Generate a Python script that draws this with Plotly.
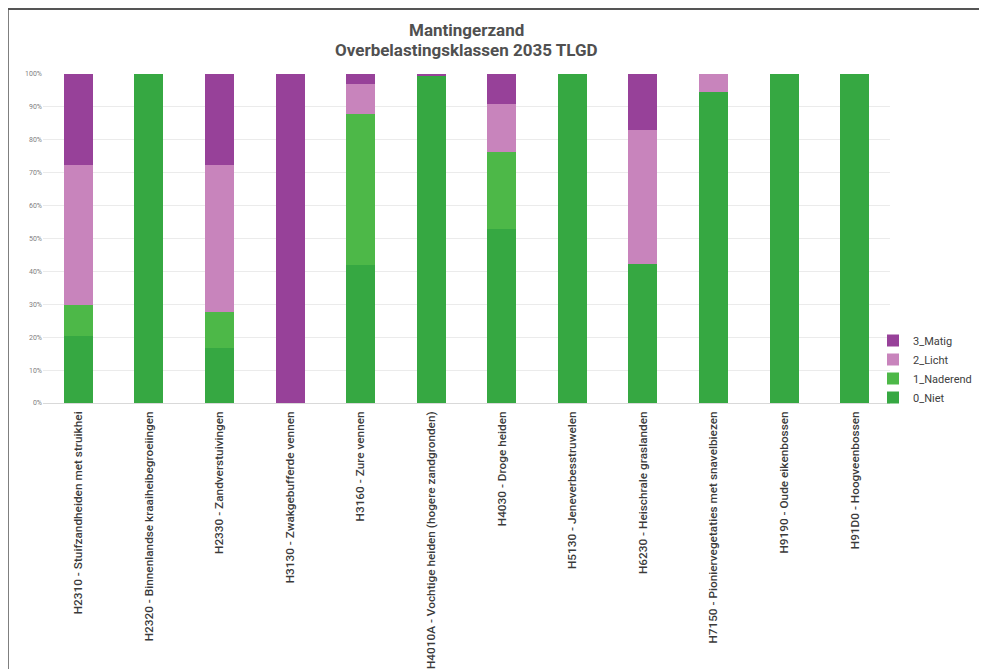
import plotly.graph_objects as go

categories = [
    "H2310 - Stuifzandheiden met struikhei",
    "H2320 - Binnenlandse kraaiheibegroeiingen",
    "H2330 - Zandverstuivingen",
    "H3130 - Zwakgebufferde vennen",
    "H3160 - Zure vennen",
    "H4010A - Vochtige heiden (hogere zandgronden)",
    "H4030 - Droge heiden",
    "H5130 - Jeneverbesstruwelen",
    "H6230 - Heischrale graslanden",
    "H7150 - Pioniervegetaties met snavelbiezen",
    "H9190 - Oude eikenbossen",
    "H91D0 - Hoogveenbossen",
]

niet     = [20.4, 100.0, 16.8, 0.0, 42.0, 99.4, 52.8, 100.0, 42.3, 94.4, 100.0, 100.0]
naderend = [9.3, 0.0, 11.0, 0.0, 45.8, 0.0, 23.6, 0.0, 0.0, 0.0, 0.0, 0.0]
licht    = [42.7, 0.0, 44.4, 0.0, 9.2, 0.0, 14.5, 0.0, 40.7, 5.6, 0.0, 0.0]
matig    = [27.6, 0.0, 27.8, 100.0, 3.0, 0.6, 9.1, 0.0, 17.0, 0.0, 0.0, 0.0]

series = [
    ("0_Niet", niet, "#36a842"),
    ("1_Naderend", naderend, "#4db848"),
    ("2_Licht", licht, "#c884bc"),
    ("3_Matig", matig, "#974199"),
]

title_lines = ["Mantingerzand", "Overbelastingsklassen 2035 TLGD"]

yticks = [0, 10, 20, 30, 40, 50, 60, 70, 80, 90, 100]
yticklabels = [f"{v}%" for v in yticks]

# figure sits inside an 8px page margin
W, H = 979, 661
L, T = 35, 66
PW, PH = 847, 329
R = W - L - PW
B = H - T - PH

def px(xp):
    return (xp - 8 - L) / PW

def py(yp):
    return (T + PH - (yp - 8)) / PH

fig = go.Figure()
for name, vals, col in series:
    fig.add_trace(go.Bar(
        x=categories, y=vals, name=name,
        marker=dict(color=col, line=dict(width=0)),
        width=0.41,
    ))

annotations = [
    dict(text=f"<b>{title_lines[0]}</b>", xref="paper", yref="paper",
         x=0.5, y=py(30), xanchor="center", yanchor="middle", showarrow=False,
         font=dict(size=17, color="#505050", family="Roboto, Arial, sans-serif")),
    dict(text=f"<b>{title_lines[1]}</b>", xref="paper", yref="paper",
         x=0.5, y=py(50), xanchor="center", yanchor="middle", showarrow=False,
         font=dict(size=17, color="#505050", family="Roboto, Arial, sans-serif")),
]

fig.update_layout(
    barmode="stack",
    width=W, height=H,
    margin=dict(l=L, r=R, t=T, b=B, autoexpand=False),
    paper_bgcolor="white", plot_bgcolor="white",
    font=dict(family="Roboto, Arial, sans-serif", color="#404040"),
    annotations=annotations,
    xaxis=dict(
        tickangle=-90, tickfont=dict(size=11.8, color="#3a3a3a", weight=500),
        ticklabelstandoff=5,
        showgrid=False, showline=False, ticks="", automargin=False,
    ),
    yaxis=dict(
        range=[0, 100], tickvals=yticks, ticktext=yticklabels,
        tickfont=dict(size=7, color="#808080"),
        showgrid=True, gridcolor="#ebebeb", gridwidth=1,
        zeroline=True, zerolinecolor="#d9d9d9", zerolinewidth=1,
        showline=False, ticks="", automargin=False,
    ),
    legend=dict(
        x=px(873), y=py(369), xanchor="left", yanchor="middle",
        traceorder="reversed",
        font=dict(size=11, color="#404040"),
        itemwidth=30, tracegroupgap=0,
        bgcolor="rgba(0,0,0,0)",
    ),
    bargap=0.59,
    shapes=[
        dict(type="line", xref="paper", yref="paper",
             x0=px(8), x1=px(1000), y0=py(9), y1=py(9),
             line=dict(color="#555555", width=2)),
        dict(type="line", xref="paper", yref="paper",
             x0=px(8), x1=px(8), y0=py(9), y1=py(680),
             line=dict(color="#555555", width=1.5)),
    ],
)

fig.write_html("out.html")
